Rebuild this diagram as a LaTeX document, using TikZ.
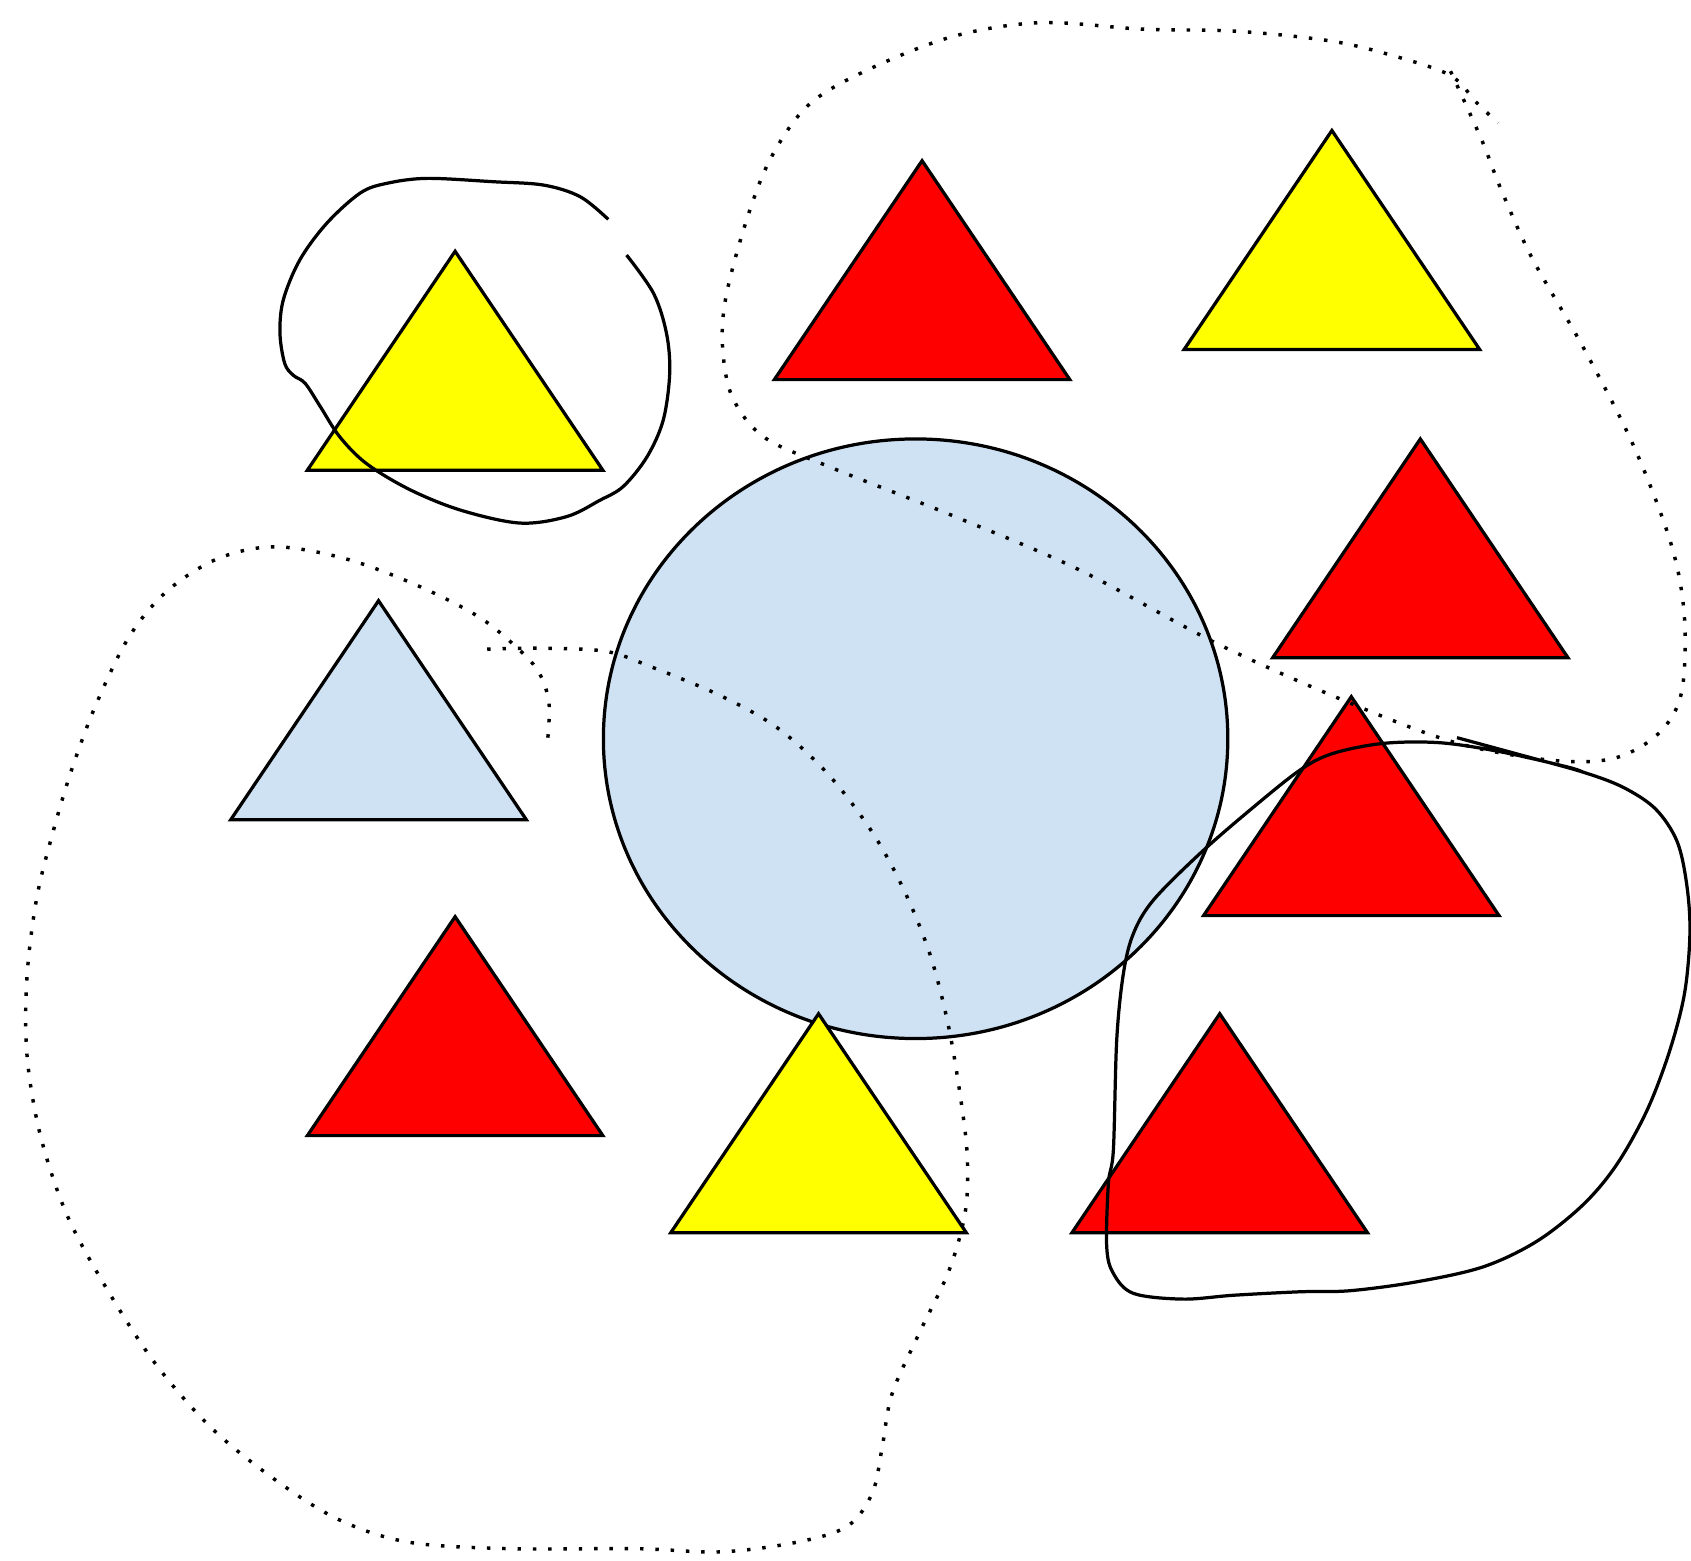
\documentclass[tikz,border=0pt]{standalone}
\definecolor{lightblue}{HTML}{CFE2F3}
\definecolor{myred}{HTML}{FF0000}
\definecolor{myyellow}{HTML}{FFFF00}
\newcommand{\mytri}[3]{\draw[shapeline,fill=#1] (#2,#3) -- ++(-137,203) -- ++(274,0) -- cycle;}
\begin{document}
\begin{tikzpicture}[x=0.5pt,y=-0.5pt,
  shapeline/.style={draw=black,line width=1.5pt,line join=miter},
  loopline/.style={draw=black,line width=1.5pt,line cap=butt},
  dotline/.style={draw=black,line width=1.6pt,dash pattern=on 1.6pt off 5.5pt,line cap=butt}]
\fill[white] (0,0) rectangle (1568,1447);
\useasboundingbox (0,0) rectangle (1568,1447);
% central circle
\draw[shapeline,fill=lightblue] (849,685) ellipse [x radius=144.75pt, y radius=139pt];
% triangles
\mytri{myyellow}{422}{233}
\mytri{myred}{855}{149}
\mytri{myyellow}{1235}{121}
\mytri{myred}{1317}{407}
\mytri{lightblue}{351}{557}
\mytri{myred}{1253}{646}
\mytri{myred}{422}{850}
\mytri{myyellow}{759}{940}
\mytri{myred}{1131}{940}
% top-left solid loop
\draw[loopline] plot[smooth,tension=0.55] coordinates {(581,236.5) (606,272) (618,309) (621,346) (615,389.5) (600,423.5) (578,451) (556,464) (525.5,479) (482,485) (427,473) (380,454) (340,430) (315,405) (297,377) (283,355.5) (272,348) (264,337) (259.6,309) (262.7,278) (278,241) (303,207) (334,179) (358.6,170) (396,165.4) (457.5,168.5) (504,171.6) (538,182.4) (564,203.4)};
% bottom-right solid loop
\draw[loopline] plot[smooth,tension=0.55] coordinates {(1351,684) (1410,700) (1468,716) (1505,730) (1535,750) (1555,780) (1564,820) (1567,865) (1562,921) (1548,975) (1527,1030) (1499,1080) (1468,1117) (1425,1151) (1375.5,1174.6) (1314,1188.5) (1252,1196.8) (1205.5,1197.8) (1144,1201) (1097,1204.6) (1051,1199.3) (1032.4,1180.8) (1026.2,1156) (1027.8,1097) (1032.4,1066) (1035.5,964) (1041.7,902.5) (1051,865.5) (1069.5,834.6) (1112.8,791.3) (1159.2,751) (1205.5,714) (1236.4,698.5) (1282.8,689.3) (1335.3,688.7) (1391,697) (1452.8,711) (1468,716)};
% top-right dotted loop
\draw[dotline] plot[smooth,tension=0.55] coordinates {(1345,66) (1374,130) (1392,176) (1421,240) (1468,322) (1515,414) (1550,506) (1562,574) (1559,643) (1538,680) (1497,703) (1439,705) (1351,689) (1252,652) (1129,597) (1000,528) (883,478) (767,432) (708,405) (679,368) (670,322) (673,276) (691,208) (714,148) (749,98) (802,66) (883,34) (965,21) (1059,27) (1147,29) (1234,38) (1293,52) (1345,70) (1369,95) (1389,114)};
% bottom-left dotted loop
\draw[dotline] plot[smooth,tension=0.55] coordinates {(508,684) (509,651) (500,624) (482,603) (444,572) (385,542) (320,518) (255,507) (202,518) (155,548) (120,590) (90,651) (67,712) (49,772) (34,833) (25,906) (25,978) (37,1051) (61,1124) (96,1190) (143,1263) (196,1324) (255,1372) (314,1409) (379,1430) (473,1436) (591,1436) (668,1439) (739,1430) (786,1415) (809,1384) (818,1342) (827,1293) (851,1239) (880,1178) (895,1124) (897,1075) (892,1027) (880,954) (863,887) (839,827) (809,772) (768,718) (721,675) (668,645) (603,618) (562,604) (503,601) (450,602)};
\end{tikzpicture}
\end{document}
